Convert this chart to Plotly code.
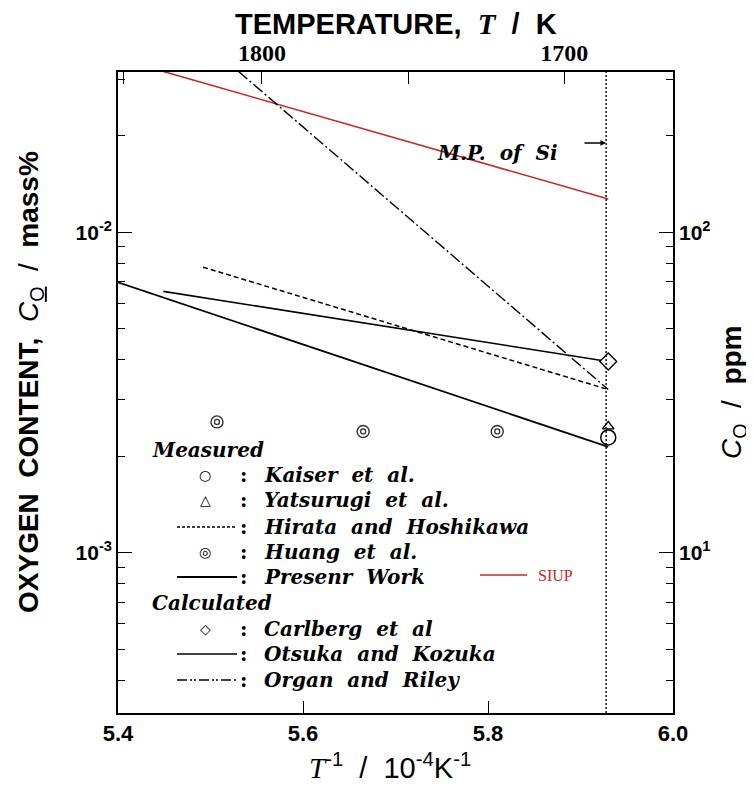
import plotly.graph_objects as go

# ---- data (x: 1e4/T, y: mass%) ----
SIUP_X = [5.448, 5.930]
SIUP_Y = [3.18e-2, 1.27e-2]

ORGAN_X = [5.530, 5.930]
ORGAN_Y = [3.18e-2, 3.23e-3]

HIRATA_X = [5.492, 5.930]
HIRATA_Y = [7.78e-3, 3.23e-3]

OTSUKA_X = [5.449, 5.930]
OTSUKA_Y = [6.54e-3, 3.95e-3]

PRESENT_X = [5.400, 5.930]
PRESENT_Y = [6.98e-3, 2.14e-3]

HUANG_X = [5.507, 5.665, 5.810]
HUANG_Y = [2.56e-3, 2.39e-3, 2.39e-3]

KAISER_X = [5.930]
KAISER_Y = [2.29e-3]
YATSURUGI_X = [5.930]
YATSURUGI_Y = [2.48e-3]
CARLBERG_X = [5.930]
CARLBERG_Y = [3.95e-3]

MP_T = 1687  # melting point of Si, K
TOP_TEMPS = [1850, 1800, 1750, 1700]
TOP_LABELS = ["", "1800", "", "1700"]
X_TICKS = [5.4, 5.6, 5.8, 6.0]
X_LABELS = ["5.4", "5.6", "5.8", "6.0"]
Y_RANGE = [-3.5, -1.5]          # log10 mass%
PPM_PER_MASS = 1e4

RED = "#c62828"
SANS = "Liberation Sans"
SERIF = "DejaVu Serif"
W, H = 754, 787
OFF = 8  # page body margin
L, R, T, B = 110, 89, 64, 82


def px(x):
    # page pixel -> paper x
    return (x - OFF - L) / (W - L - R)


def py(y):
    # page pixel -> paper y
    return (H - B - (y - OFF)) / (H - T - B)


fig = go.Figure()

line_specs = [
    (SIUP_X, SIUP_Y, RED, "solid", 1.6),
    (ORGAN_X, ORGAN_Y, "black", "12px,3px,2px,3px", 1.4),
    (HIRATA_X, HIRATA_Y, "black", "5px,3px", 1.5),
    (OTSUKA_X, OTSUKA_Y, "black", "solid", 1.6),
    (PRESENT_X, PRESENT_Y, "black", "solid", 1.8),
]
for xs, ys, color, dash, width in line_specs:
    fig.add_trace(go.Scatter(x=xs, y=ys, mode="lines",
                             line=dict(color=color, dash=dash, width=width),
                             showlegend=False, hoverinfo="skip"))

# melting point of Si, drawn on the temperature / ppm axes
ppm_lo, ppm_hi = 10 ** Y_RANGE[0] * PPM_PER_MASS, 10 ** Y_RANGE[1] * PPM_PER_MASS
mp_x = 1e4 / MP_T
fig.add_trace(go.Scatter(x=[mp_x, mp_x], y=[ppm_lo, ppm_hi], xaxis="x2", yaxis="y2",
                         mode="lines", line=dict(color="black", dash="2px,2px", width=1.4),
                         showlegend=False, hoverinfo="skip"))

# markers
fig.add_trace(go.Scatter(x=HUANG_X, y=HUANG_Y, mode="markers",
                         marker=dict(symbol="circle-open", size=12, color="#333", line=dict(width=1.4)),
                         showlegend=False))
fig.add_trace(go.Scatter(x=HUANG_X, y=HUANG_Y, mode="markers",
                         marker=dict(symbol="circle-open", size=5, color="#333", line=dict(width=1.3)),
                         showlegend=False))
fig.add_trace(go.Scatter(x=KAISER_X, y=KAISER_Y, mode="markers",
                         marker=dict(symbol="circle", size=15, color="white", line=dict(width=1.5, color="black")),
                         showlegend=False))
fig.add_trace(go.Scatter(x=YATSURUGI_X, y=YATSURUGI_Y, mode="markers",
                         marker=dict(symbol="triangle-up", size=10, color="white", line=dict(width=1.4, color="black")),
                         showlegend=False))
fig.add_trace(go.Scatter(x=CARLBERG_X, y=CARLBERG_Y, mode="markers",
                         marker=dict(symbol="diamond", size=13, color="white", line=dict(width=1.4, color="black")),
                         showlegend=False))

# minor ticks for log axes
minor_mass = [m * 10 ** e for e in (-4, -3, -2) for m in range(2, 10)]
minor_ppm = [m * 10 ** e for e in (0, 1, 2) for m in range(2, 10)]

axis_common = dict(showline=True, linecolor="black", linewidth=1.6, ticks="inside",
                   tickcolor="black", showgrid=False, zeroline=False, automargin=False)

fig.update_layout(
    width=W, height=H,
    margin=dict(l=L, r=R, t=T, b=B),
    paper_bgcolor="white", plot_bgcolor="white",
    xaxis=dict(range=[5.4, 6.0], tickvals=X_TICKS, ticktext=X_LABELS, ticklen=12,
               tickfont=dict(family=SANS, size=22, color="black", weight="bold"), **axis_common),
    xaxis2=dict(range=[5.4, 6.0], overlaying="x", side="top", anchor="y",
                tickvals=[1e4 / t for t in TOP_TEMPS], ticktext=TOP_LABELS, ticklen=12,
                tickfont=dict(family="Liberation Serif", size=24, color="black", weight="bold"),
                **axis_common),
    yaxis=dict(type="log", range=Y_RANGE, tickvals=[1e-3, 1e-2],
               ticktext=["10<sup>-3</sup>", "10<sup>-2</sup>"], ticklen=14,
               tickfont=dict(family=SANS, size=21, color="black", weight="bold"),
               minor=dict(tickvals=minor_mass, ticklen=7, ticks="inside", tickcolor="black", showgrid=False),
               **axis_common),
    yaxis2=dict(type="log", overlaying="y", side="right", anchor="x",
                range=[Y_RANGE[0] + 4, Y_RANGE[1] + 4], tickvals=[10, 100],
                ticktext=["10<sup>1</sup>", "10<sup>2</sup>"], ticklen=14,
                tickfont=dict(family=SANS, size=21, color="black", weight="bold"),
                minor=dict(tickvals=minor_ppm, ticklen=7, ticks="inside", tickcolor="black", showgrid=False),
                **axis_common),
)

ann = []


def add_text(x, y, text, font, xanchor="center", **kw):
    ann.append(dict(x=px(x), y=py(y), xref="paper", yref="paper", showarrow=False,
                    xanchor=xanchor, yanchor="middle", text=text, font=font, **kw))


# titles
add_text(396, 24, "<b>TEMPERATURE,  </b><span style='font-family:Liberation Serif'><i>T</i></span>  /  <b>K</b>",
         dict(family=SANS, size=29, color="black", weight="bold"))
add_text(390, 766, "<span style='font-family:Liberation Serif'><i>T</i></span><sup>-1</sup>  /  10<sup>-4</sup>K<sup>-1</sup>",
         dict(family=SANS, size=29, color="black"))
add_text(30, 382, "<b>OXYGEN  CONTENT,  </b><i>C</i><sub><span style='text-decoration:underline'>O</span></sub>  /  <b>mass%</b>",
         dict(family=SANS, size=28, color="black"), textangle=-90)
add_text(733, 392, "<i>C</i><sub><span style='text-decoration:underline'>O</span></sub>  /  <b>ppm</b>",
         dict(family=SANS, size=28, color="black"), textangle=-90)

# M.P. of Si
add_text(497, 153, "<b><i>M.P.  of  Si</i></b>", dict(family=SERIF, size=20, color="black"))
ann.append(dict(x=px(606), y=py(143), ax=-23, ay=0, xref="paper", yref="paper",
                axref="pixel", ayref="pixel", showarrow=True, arrowhead=2, arrowsize=0.8,
                arrowwidth=1.4, arrowcolor="black", text=""))

# legend block
leg_font = dict(family=SERIF, size=20, color="black")
rows = [
    (450, None, "Measured", True),
    (475, "○", "Kaiser  et  al.", False),
    (500, "△", "Yatsurugi  et  al.", False),
    (527, "dash", "Hirata  and  Hoshikawa", False),
    (552, "◎", "Huang  et  al.", False),
    (577, "solid2", "Presenr  Work", False),
    (603, None, "Calculated", True),
    (629, "◇", "Carlberg  et  al", False),
    (654, "solid", "Otsuka  and  Kozuka", False),
    (680, "dashdot", "Organ  and  Riley", False),
]
shapes = []
for y, sym, label, header in rows:
    if header:
        add_text(150, y, f"<b><i>{label}</i></b>", leg_font, xanchor="left")
        continue
    add_text(262, y, f"<b><i>{label}</i></b>", leg_font, xanchor="left")
    add_text(243, y, "<b>:</b>", leg_font)
    if sym in ("○", "△", "◎", "◇"):
        add_text(205, y, sym, dict(family="DejaVu Sans", size=14, color="black"))
    else:
        dash = {"dash": "3px,2px", "solid": "solid", "solid2": "solid",
                "dashdot": "10px,3px,2px,2px,2px,3px"}[sym]
        width = 2.2 if sym == "solid2" else 1.3
        shapes.append(dict(type="line", xref="paper", yref="paper",
                           x0=px(177), x1=px(237), y0=py(y), y1=py(y),
                           line=dict(color="black", width=width, dash=dash)))

# SIUP legend entry
shapes.append(dict(type="line", xref="paper", yref="paper", x0=px(480), x1=px(527),
                   y0=py(575), y1=py(575), line=dict(color=RED, width=1.5)))
add_text(536, 575, "SIUP", dict(family="Liberation Serif", size=16, color=RED), xanchor="left")

fig.update_layout(annotations=ann, shapes=shapes)
fig.write_html("out.html")
